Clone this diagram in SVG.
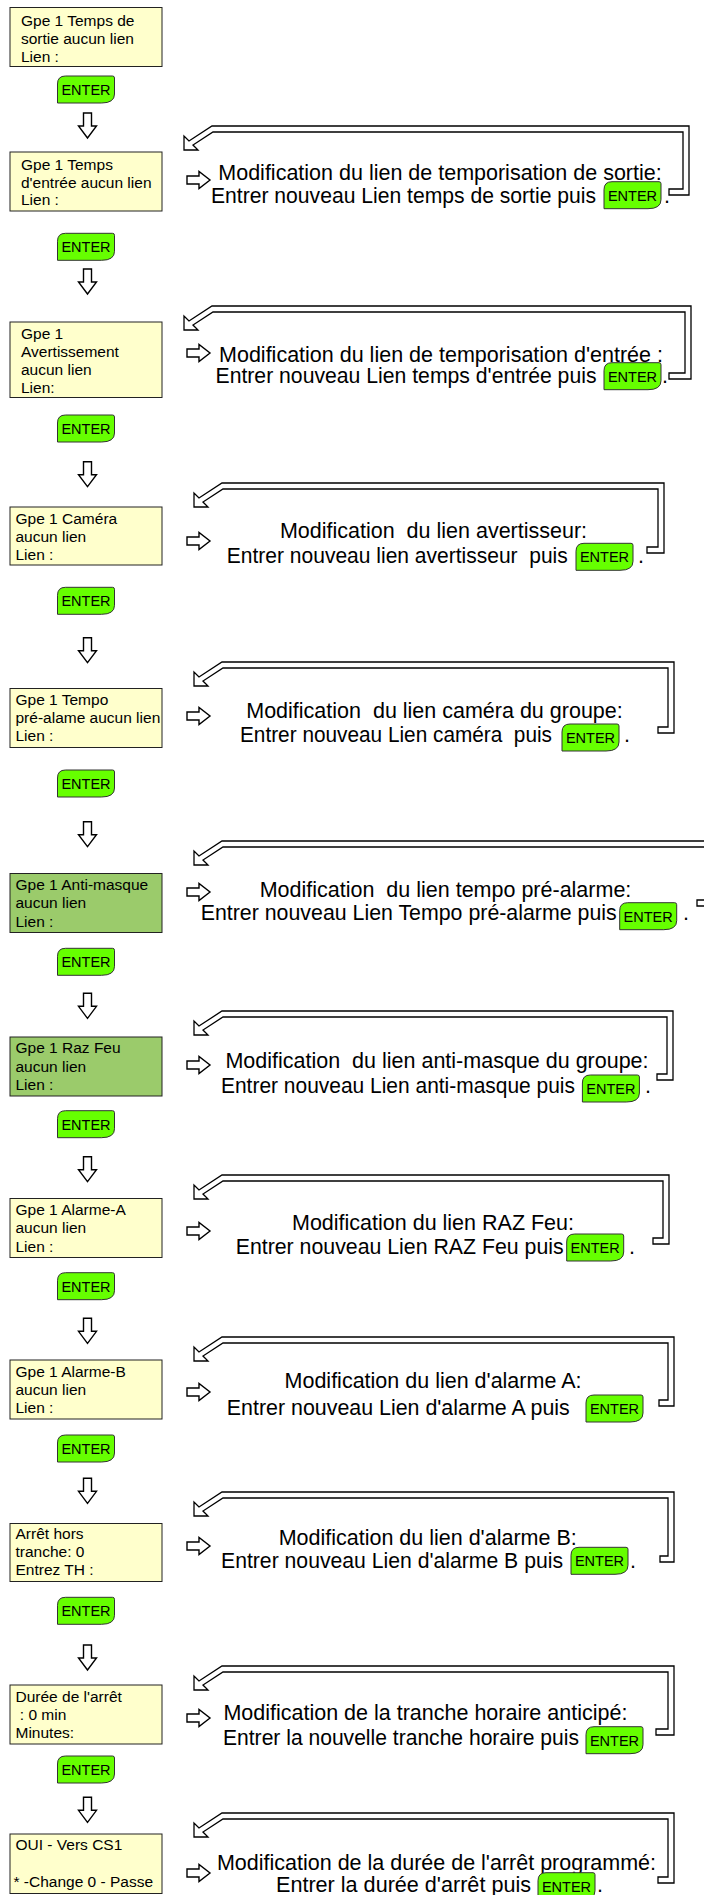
<svg xmlns="http://www.w3.org/2000/svg" xmlns:xlink="http://www.w3.org/1999/xlink" width="704" height="1895" viewBox="0 0 704 1895">
<defs>
<style>
.by{fill:#FFFFCC;stroke:#222;stroke-width:1}
.bg{fill:#9BCB6B;stroke:#222;stroke-width:1}
.bt{font-family:"Liberation Sans",Arial,sans-serif;font-size:15.5px;fill:#000;white-space:pre}
.mt{font-family:"Liberation Sans",Arial,sans-serif;font-size:21.5px;fill:#000;white-space:pre}
.c{text-anchor:middle}
.et{font-family:"Liberation Sans",Arial,sans-serif;font-size:14.5px;fill:#000;text-anchor:middle}
.ek{fill:#66FF00;stroke:#333;stroke-width:1}
.ar{fill:#fff;stroke:#000;stroke-width:1.4;stroke-linejoin:miter}
.br{fill:#fff;stroke:#000;stroke-width:1.3;stroke-linejoin:miter}
</style>
<path id="ek" d="M8,0 H55 Q57,0 57,2 V18 Q57,27 44,27 H0 V8 Q0,0 8,0 Z"/>
<path id="dn" d="M5,0 H13 V13 H18 L9,25 L0,13 H5 Z"/>
<path id="rt" d="M0,4.5 H12 V0 L23,8.5 L12,17 V12.5 H0 Z"/>
</defs>
<rect width="704" height="1895" fill="#fff"/>

<g id="connectors">
<g id="down-arrows" class="ar">
<use xlink:href="#dn" x="78.5" y="113"/>
<use xlink:href="#dn" x="78.5" y="269"/>
<use xlink:href="#dn" x="78.5" y="461.7"/>
<use xlink:href="#dn" x="78.5" y="637.7"/>
<use xlink:href="#dn" x="78.5" y="821.7"/>
<use xlink:href="#dn" x="78.5" y="993.3"/>
<use xlink:href="#dn" x="78.5" y="1156.7"/>
<use xlink:href="#dn" x="78.5" y="1318.3"/>
<use xlink:href="#dn" x="78.5" y="1478.3"/>
<use xlink:href="#dn" x="78.5" y="1645"/>
<use xlink:href="#dn" x="78.5" y="1797.3"/>
</g>
<g id="right-arrows" class="ar">
<use xlink:href="#rt" x="187" y="171.5"/>
<use xlink:href="#rt" x="187" y="344.5"/>
<use xlink:href="#rt" x="187" y="532.5"/>
<use xlink:href="#rt" x="187" y="707.5"/>
<use xlink:href="#rt" x="187" y="883.5"/>
<use xlink:href="#rt" x="187" y="1056.5"/>
<use xlink:href="#rt" x="187" y="1222.5"/>
<use xlink:href="#rt" x="187" y="1383.5"/>
<use xlink:href="#rt" x="187" y="1537.5"/>
<use xlink:href="#rt" x="187" y="1709.5"/>
<use xlink:href="#rt" x="187" y="1864.5"/>
</g>
<g id="return-arrows" class="br">
<path d="M212,126 L689,126 L689,195 L669,195 L669,189 L683,189 L683,132 L213,132 L193,145 L198,150 L184,150 L184,136 L189,141 Z"/>
<path d="M212,306 L691,306 L691,379 L669,379 L669,373 L685,373 L685,312 L213,312 L193,325 L198,330 L184,330 L184,316 L189,321 Z"/>
<path d="M222,483 L664,483 L664,553 L647,553 L647,547 L658,547 L658,489 L223,489 L203,502 L208,507 L194,507 L194,493 L199,498 Z"/>
<path d="M222,662 L674,662 L674,733 L658,733 L658,727 L668,727 L668,668 L223,668 L203,681 L208,686 L194,686 L194,672 L199,677 Z"/>
<path d="M222,841 L720,841 L720,906 L697,906 L697,900 L714,900 L714,847 L223,847 L203,860 L208,865 L194,865 L194,851 L199,856 Z"/>
<path d="M222,1011 L673,1011 L673,1080 L657,1080 L657,1074 L667,1074 L667,1017 L223,1017 L203,1030 L208,1035 L194,1035 L194,1021 L199,1026 Z"/>
<path d="M222,1175 L669,1175 L669,1244 L653,1244 L653,1238 L663,1238 L663,1181 L223,1181 L203,1194 L208,1199 L194,1199 L194,1185 L199,1190 Z"/>
<path d="M222,1337 L674,1337 L674,1406 L659,1406 L659,1400 L668,1400 L668,1343 L223,1343 L203,1356 L208,1361 L194,1361 L194,1347 L199,1352 Z"/>
<path d="M222,1492 L674,1492 L674,1562 L660,1562 L660,1556 L668,1556 L668,1498 L223,1498 L203,1511 L208,1516 L194,1516 L194,1502 L199,1507 Z"/>
<path d="M222,1666 L674,1666 L674,1735 L656,1735 L656,1729 L668,1729 L668,1672 L223,1672 L203,1685 L208,1690 L194,1690 L194,1676 L199,1681 Z"/>
<path d="M222,1813 L674,1813 L674,1883 L658,1883 L658,1877 L668,1877 L668,1819 L223,1819 L203,1832 L208,1837 L194,1837 L194,1823 L199,1828 Z"/>
</g>
</g>

<g id="box1"><rect class="by" x="10" y="7.5" width="152" height="59"/>
<text class="bt" x="21" y="26">Gpe 1 Temps de</text><text class="bt" x="21" y="44">sortie aucun lien</text><text class="bt" x="21" y="62">Lien :</text></g>
<g id="box2"><rect class="by" x="10" y="152" width="152" height="59"/>
<text class="bt" x="21" y="170">Gpe 1 Temps</text><text class="bt" x="21" y="187.5">d'entrée aucun lien</text><text class="bt" x="21" y="205">Lien :</text></g>
<g id="box3"><rect class="by" x="10" y="322" width="152" height="75.5"/>
<text class="bt" x="21" y="338.5">Gpe 1</text><text class="bt" x="21" y="356.5">Avertissement</text><text class="bt" x="21" y="374.5">aucun lien</text><text class="bt" x="21" y="393">Lien:</text></g>
<g id="box4"><rect class="by" x="10" y="507" width="152" height="58"/>
<text class="bt" x="15.5" y="523.5">Gpe 1 Caméra</text><text class="bt" x="15.5" y="541.5">aucun lien</text><text class="bt" x="15.5" y="559.5">Lien :</text></g>
<g id="box5"><rect class="by" x="10" y="688.5" width="152" height="59"/>
<text class="bt" x="15.5" y="705">Gpe 1 Tempo</text><text class="bt" x="15.5" y="723">pré-alame aucun lien</text><text class="bt" x="15.5" y="741">Lien :</text></g>
<g id="box6"><rect class="bg" x="10" y="873.5" width="152" height="59"/>
<text class="bt" x="15.5" y="890">Gpe 1 Anti-masque</text><text class="bt" x="15.5" y="908.3">aucun lien</text><text class="bt" x="15.5" y="926.7">Lien :</text></g>
<g id="box7"><rect class="bg" x="10" y="1037" width="152" height="59"/>
<text class="bt" x="15.5" y="1053.3">Gpe 1 Raz Feu</text><text class="bt" x="15.5" y="1071.7">aucun lien</text><text class="bt" x="15.5" y="1090">Lien :</text></g>
<g id="box8"><rect class="by" x="10" y="1198.5" width="152" height="59"/>
<text class="bt" x="15.5" y="1215">Gpe 1 Alarme-A</text><text class="bt" x="15.5" y="1233.3">aucun lien</text><text class="bt" x="15.5" y="1251.7">Lien :</text></g>
<g id="box9"><rect class="by" x="10" y="1360" width="152" height="59"/>
<text class="bt" x="15.5" y="1377.3">Gpe 1 Alarme-B</text><text class="bt" x="15.5" y="1395">aucun lien</text><text class="bt" x="15.5" y="1413.3">Lien :</text></g>
<g id="box10"><rect class="by" x="10" y="1523.5" width="152" height="58"/>
<text class="bt" x="15.5" y="1539.3">Arrêt hors</text><text class="bt" x="15.5" y="1557.3">tranche: 0</text><text class="bt" x="15.5" y="1575">Entrez TH :</text></g>
<g id="box11"><rect class="by" x="10" y="1685" width="152" height="59"/>
<text class="bt" x="15.5" y="1701.7">Durée de l'arrêt</text><text class="bt" x="15.5" y="1720"> : 0 min</text><text class="bt" x="15.5" y="1738.3">Minutes:</text></g>
<g id="box12"><rect class="by" x="10" y="1834" width="152" height="59.5"/>
<text class="bt" x="15.5" y="1850">OUI - Vers CS1</text><text class="bt" x="13.5" y="1886.7">* -Change 0 - Passe</text></g>

<g id="enter1"><use xlink:href="#ek" class="ek" x="57.5" y="76"/><text class="et" x="86" y="95">ENTER</text></g>
<g id="enter2"><use xlink:href="#ek" class="ek" x="57.5" y="233.3"/><text class="et" x="86" y="252.3">ENTER</text></g>
<g id="enter3"><use xlink:href="#ek" class="ek" x="57.5" y="415"/><text class="et" x="86" y="434">ENTER</text></g>
<g id="enter4"><use xlink:href="#ek" class="ek" x="57.5" y="587.3"/><text class="et" x="86" y="606.3">ENTER</text></g>
<g id="enter5"><use xlink:href="#ek" class="ek" x="57.5" y="770"/><text class="et" x="86" y="789">ENTER</text></g>
<g id="enter6"><use xlink:href="#ek" class="ek" x="57.5" y="948.3"/><text class="et" x="86" y="967.3">ENTER</text></g>
<g id="enter7"><use xlink:href="#ek" class="ek" x="57.5" y="1110.7"/><text class="et" x="86" y="1129.7">ENTER</text></g>
<g id="enter8"><use xlink:href="#ek" class="ek" x="57.5" y="1272.7"/><text class="et" x="86" y="1291.7">ENTER</text></g>
<g id="enter9"><use xlink:href="#ek" class="ek" x="57.5" y="1435"/><text class="et" x="86" y="1454">ENTER</text></g>
<g id="enter10"><use xlink:href="#ek" class="ek" x="57.5" y="1597.3"/><text class="et" x="86" y="1616.3">ENTER</text></g>
<g id="enter11"><use xlink:href="#ek" class="ek" x="57.5" y="1756"/><text class="et" x="86" y="1775">ENTER</text></g>

<g id="note1"><text class="mt c" x="440" y="179.5">Modification du lien de temporisation de sortie:</text>
<text class="mt" x="211" y="203.3" textLength="385" lengthAdjust="spacingAndGlyphs">Entrer nouveau Lien temps de sortie puis</text>
<use xlink:href="#ek" class="ek" x="604" y="181.7"/><text class="et" x="632.5" y="200.7">ENTER</text><text class="mt" x="664" y="203.3">.</text></g>
<g id="note2"><text class="mt c" x="441" y="361.7">Modification du lien de temporisation d'entrée :</text>
<text class="mt" x="215.5" y="383" textLength="381" lengthAdjust="spacingAndGlyphs">Entrer nouveau Lien temps d'entrée puis</text>
<use xlink:href="#ek" class="ek" x="604" y="362.7"/><text class="et" x="632.5" y="381.7">ENTER</text><text class="mt" x="662" y="383">.</text></g>
<g id="note3"><text class="mt c" x="433.5" y="538.3">Modification  du lien avertisseur:</text>
<text class="mt" x="226.8" y="563.3" textLength="341" lengthAdjust="spacingAndGlyphs">Entrer nouveau lien avertisseur  puis</text>
<use xlink:href="#ek" class="ek" x="576" y="543.3"/><text class="et" x="604.5" y="562.3">ENTER</text><text class="mt" x="638" y="563.3">.</text></g>
<g id="note4"><text class="mt c" x="434.5" y="718.3">Modification  du lien caméra du groupe:</text>
<text class="mt" x="240" y="741.7" textLength="312" lengthAdjust="spacingAndGlyphs">Entrer nouveau Lien caméra  puis</text>
<use xlink:href="#ek" class="ek" x="562" y="724"/><text class="et" x="590.5" y="743">ENTER</text><text class="mt" x="624" y="741.7">.</text></g>
<g id="note5"><text class="mt c" x="445.5" y="897.3">Modification  du lien tempo pré-alarme:</text>
<text class="mt" x="200.7" y="920" textLength="416" lengthAdjust="spacingAndGlyphs">Entrer nouveau Lien Tempo pré-alarme puis</text>
<use xlink:href="#ek" class="ek" x="619.7" y="902.7"/><text class="et" x="648.2" y="921.7">ENTER</text><text class="mt" x="683" y="920">.</text></g>
<g id="note6"><text class="mt c" x="437" y="1068.3">Modification  du lien anti-masque du groupe:</text>
<text class="mt" x="221" y="1093.3" textLength="354" lengthAdjust="spacingAndGlyphs">Entrer nouveau Lien anti-masque puis</text>
<use xlink:href="#ek" class="ek" x="582.4" y="1075"/><text class="et" x="610.9" y="1094">ENTER</text><text class="mt" x="645" y="1093.3">.</text></g>
<g id="note7"><text class="mt c" x="433" y="1230">Modification du lien RAZ Feu:</text>
<text class="mt" x="235.7" y="1254" textLength="328" lengthAdjust="spacingAndGlyphs">Entrer nouveau Lien RAZ Feu puis</text>
<use xlink:href="#ek" class="ek" x="566.7" y="1234"/><text class="et" x="595.2" y="1253">ENTER</text><text class="mt" x="629" y="1254">.</text></g>
<g id="note8"><text class="mt c" x="433" y="1388.3">Modification du lien d'alarme A:</text>
<text class="mt" x="226.8" y="1415" textLength="343" lengthAdjust="spacingAndGlyphs">Entrer nouveau Lien d'alarme A puis</text>
<use xlink:href="#ek" class="ek" x="586" y="1395"/><text class="et" x="614.5" y="1414">ENTER</text></g>
<g id="note9"><text class="mt c" x="427.7" y="1545">Modification du lien d'alarme B:</text>
<text class="mt" x="221" y="1568.3" textLength="342" lengthAdjust="spacingAndGlyphs">Entrer nouveau Lien d'alarme B puis</text>
<use xlink:href="#ek" class="ek" x="571" y="1547.3"/><text class="et" x="599.5" y="1566.3">ENTER</text><text class="mt" x="630" y="1568.3">.</text></g>
<g id="note10"><text class="mt c" x="425.4" y="1720">Modification de la tranche horaire anticipé:</text>
<text class="mt" x="223" y="1745" textLength="356" lengthAdjust="spacingAndGlyphs">Entrer la nouvelle tranche horaire puis</text>
<use xlink:href="#ek" class="ek" x="586" y="1726.7"/><text class="et" x="614.5" y="1745.7">ENTER</text></g>
<g id="note11"><text class="mt c" x="436.5" y="1870">Modification de la durée de l'arrêt programmé:</text>
<text class="mt" x="276" y="1891.7" textLength="255" lengthAdjust="spacingAndGlyphs">Entrer la durée d'arrêt puis</text>
<use xlink:href="#ek" class="ek" x="538" y="1872.7"/><text class="et" x="566.5" y="1891.7">ENTER</text><text class="mt" x="597" y="1891.7">.</text></g>
</svg>
